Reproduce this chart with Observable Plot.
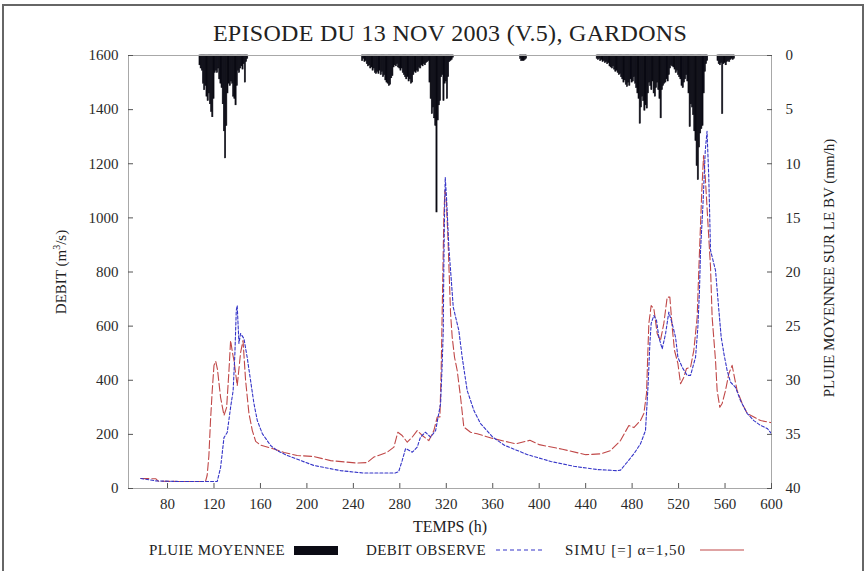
<!DOCTYPE html>
<html><head><meta charset="utf-8">
<script src="https://cdn.jsdelivr.net/npm/d3@7"></script>
<script src="https://cdn.jsdelivr.net/npm/@observablehq/plot@0.6"></script>
<style>
body{margin:0;background:#fff;font-family:"Liberation Serif",serif;color:#222}
#wrap{position:relative;width:866px;height:571px;overflow:hidden;background:#fff}
.abs{position:absolute;white-space:nowrap;line-height:1}
.leg{letter-spacing:0.4px;font-size:15px}
</style></head><body>
<div id="wrap">
  <div style="position:absolute;left:2px;top:4px;width:858px;height:590px;border:2px solid #666"></div>
  <div class="abs" style="left:450px;top:21px;transform:translateX(-50%);font-size:24px;letter-spacing:0.3px">EPISODE DU 13 NOV 2003 (V.5), GARDONS</div>
  <div id="chart" style="position:absolute;left:0;top:50px"></div>
  <div class="abs" style="left:60px;top:272px;transform:translate(-50%,-50%) rotate(-90deg);font-size:15px">DEBIT (m<sup style="font-size:10px">3</sup>/s)</div>
  <div class="abs" style="left:829px;top:268px;transform:translate(-50%,-50%) rotate(-90deg);font-size:15px">PLUIE MOYENNEE SUR LE BV (mm/h)</div>
  <div class="abs" style="left:450px;top:519px;transform:translateX(-50%);font-size:16px">TEMPS (h)</div>
  <div class="abs leg" style="left:149px;top:543px">PLUIE MOYENNEE</div>
  <div style="position:absolute;left:294px;top:546px;width:44px;height:9px;background:#0b0b14"></div>
  <div class="abs leg" style="left:366px;top:543px">DEBIT OBSERVE</div>
  <svg style="position:absolute;left:494px;top:545px" width="50" height="10"><line x1="2" x2="48" y1="5" y2="5" stroke="#3535c8" stroke-width="1.2" stroke-dasharray="4,3"/></svg>
  <div class="abs leg" style="left:565px;top:543px;letter-spacing:1px">SIMU [=] α=1,50</div>
  <svg style="position:absolute;left:698px;top:545px" width="50" height="10"><line x1="2" x2="46" y1="5" y2="5" stroke="#c04848" stroke-width="1.2"/></svg>
</div>
<script>
// ---- data ----
const xTicks = [80,120,160,200,240,280,320,360,400,440,480,520,560,600];
const qTicks = [0,200,400,600,800,1000,1200,1400,1600];
const rainTicks = [0,5,10,15,20,25,30,35,40];

// mean rainfall (mm/h), hourly, by episode
const rain1Start = 108;
const rain1 = [0.9,1.2,1.4,2.6,3.2,2.8,3.8,4.2,3.5,4.5,5.2,5.7,4.0,1.6,1.4,1.6,1.2,2.2,2.6,3.0,4.5,7.0,9.5,6.5,3.5,2.6,2.8,2.4,2.6,3.8,4.0,4.6,2.8,1.4,1.6,1.2,1.0,1.3,0.8,2.5,0.6,0.3];
const rain2Start = 248;
const rain2 = [0.5,0.3,0.6,0.5,0.8,1.0,0.9,1.2,1.1,1.4,1.2,1.6,1.7,1.5,1.7,1.4,1.8,1.5,2.0,1.8,2.3,2.5,2.6,2.8,2.7,2.1,1.9,1.1,0.9,1.0,0.8,1.1,1.2,1.4,1.2,1.6,1.8,2.0,2.2,2.0,2.4,2.2,2.6,2.5,1.8,1.5,1.6,1.4,1.5,1.1,1.2,0.9,1.0,0.8,0.9,0.7,0.6,0.5,2.5,4.0,5.4,4.8,5.8,6.5,14.5,6.0,4.6,4.2,2.0,1.8,4.2,2.6,2.4,4.0,2.0,0.6,0.5,0.4,0.2];
const rain3Start = 384;
const rain3 = [0.3,0.5,0.5,0.5,0.4,0.3];
const rain4Start = 450;
const rain4 = [0.3,0.4,0.3,0.5,0.4,0.6,0.5,0.7,0.6,0.8,0.7,1.0,1.1,1.2,1.0,1.3,1.5,1.4,1.6,1.8,1.7,2.0,2.2,2.5,2.3,2.7,2.9,2.5,2.8,2.2,2.5,2.4,2.0,2.6,3.0,3.5,4.0,6.3,4.8,3.8,4.2,5.1,4.6,4.9,3.5,2.5,2.8,3.2,2.4,3.5,3.8,3.0,2.5,3.2,4.0,5.8,3.2,2.8,2.6,2.5,2.2,2.4,1.8,1.2,0.9,1.0,1.1,1.3,1.6,1.4,1.8,2.0,2.2,2.8,3.0,2.5,2.2,1.8,2.4,3.5,6.6,4.5,4.8,5.5,7.0,7.9,10.2,11.5,8.5,7.2,6.8,6.5,3.5,1.5,0.8,0.5];
const rain5Start = 554;
const rain5 = [0.5,0.8,0.9,0.7,5.4,0.8,0.7,0.9,0.6,0.5,0.6,0.4,0.3,0.4,0.3];

// observed discharge (m3/s)
const obsT = [57,70,90,112.7,122.8,125.7,128.6,131.4,134.3,136.5,138,139.2,140,141.5,142.9,145.8,148.6,151.5,154.4,157.3,161.6,168.7,174.5,183,206,229,249,276,279,282,285,290.7,295,297.8,302,306.5,310.8,315.1,316.5,317.4,317.9,318.5,319.1,320.2,322.2,323.7,326,330.8,333.7,338,343.8,349.5,360,370,390,410,430,450,467,470,475.7,481.5,487.2,491.5,493,493.8,495.3,496.4,498.7,501,503,505.9,508.8,511.6,514.5,517.4,519.4,523.1,527.4,530.3,534.6,536.6,538,538.9,541,543,544.5,546,547.5,551.8,554.7,556.7,559,561.8,564.7,569,573.3,579.1,584.8,590.6,596.3,600];
const obsQ = [37,28,26,26,26,78,188,207,300,362,499,658,676,536,573,554,484,399,314,251,203,159,140,122,85,66,57,57,62,103,148,134,153,190,208,190,214,314,462,584,831,1016,1150,1076,892,806,670,584,485,362,288,240,190,160,125,100,82,70,66,68,97,128,165,214,325,388,536,610,639,621,559,516,572,652,609,559,485,448,418,418,485,596,732,880,1050,1250,1320,1150,880,806,658,559,499,436,393,374,325,277,251,233,222,203];

// simulated discharge (m3/s)
const simT = [57,70,72,90,112.7,114.1,115.6,117,118.5,120,121.5,123,125.7,128.6,130.9,132.9,134.3,136,137.2,140,142.9,145,147.2,150.1,153,155.9,160.2,170.2,180.3,191.6,206,220.4,243.3,251.9,257.6,269.1,274.9,278.3,282,286.4,290.7,295,299.3,305,309.3,312.2,314.5,315.6,317.1,317.9,318.8,319.9,321.4,323.7,325.1,327.1,329.4,332.3,335.1,340.9,346.6,360,380,392,400,420,440,452.8,461.4,470,477.2,481.5,487.2,490.1,492.4,493.6,494.4,496.4,498.7,501.6,504.4,507.3,510.2,512.5,514.5,516.5,519.4,521.7,524.5,526.8,530.3,533.1,536,537.5,540,541.5,543,545,547.5,548.9,551.8,553.2,555.5,557.5,560.4,563.3,566.1,568.1,570.4,574.8,579.1,584.8,590.6,597.8,600];
const simQ = [37,36,27,26,26,48,120,250,362,455,470,440,336,270,300,436,547,500,473,380,502,547,400,277,214,174,160,148,133,122,118,103,94,96,116,134,153,208,196,171,190,214,196,177,214,264,264,436,806,1003,1101,1076,929,646,559,485,436,337,227,208,202,185,165,178,162,145,125,128,140,177,233,225,251,277,351,510,610,676,665,572,547,610,707,707,596,510,462,387,411,443,448,510,633,818,1100,1230,1150,1000,818,633,473,362,300,314,362,425,455,411,362,314,277,264,251,245,243];

// ---- build tables ----
const rain = [];
[[rain1Start,rain1],[rain2Start,rain2],[rain3Start,rain3],[rain4Start,rain4],[rain5Start,rain5]]
  .forEach(([s,arr]) => arr.forEach((r,i) => rain.push({h: s + i, r})));
const obs = obsT.map((t,i) => ({t, q: obsQ[i]}));
const sim = simT.map((t,i) => ({t, q: simQ[i]}));
const QMAX = 1600, RMAX = 40, K = QMAX / RMAX; // rain axis: 0 at top, 40 at bottom
const FS = 15;

const chart = Plot.plot({
  width: 866, height: 490,
  marginLeft: 128, marginRight: 95, marginTop: 5, marginBottom: 52,
  x: {domain: [46.4, 600]},
  y: {domain: [0, QMAX]},
  style: {fontFamily: "Liberation Serif, serif", fontSize: "15px", color: "#2a2a2a", background: "transparent", overflow: "visible"},
  marks: [
    Plot.rectY(rain, {x1: d => d.h - 0.5, x2: d => d.h + 0.5, y1: QMAX, y2: d => QMAX - d.r * K, fill: "#0b0b14", stroke: "#0b0b14", strokeWidth: 0.6}),
    Plot.line(sim, {x: "t", y: "q", stroke: "#c04848", strokeWidth: 1.1, strokeDasharray: "8,3"}),
    Plot.line(obs, {x: "t", y: "q", stroke: "#3535c8", strokeWidth: 1.1, strokeDasharray: "3,2"}),
    Plot.frame({stroke: "#a8a8a8"}),
    Plot.axisX({ticks: xTicks, tickSize: -5, tickFormat: () => "", stroke: "#555", label: null}),
    Plot.axisX({ticks: xTicks, tickSize: 0, tickPadding: 10, tickFormat: d => String(d), fontSize: FS, label: null}),
    Plot.axisY({ticks: qTicks, tickSize: -5, tickFormat: () => "", stroke: "#555", label: null}),
    Plot.axisY({ticks: qTicks, tickSize: 0, tickPadding: 10, tickFormat: d => String(d), fontSize: FS, label: null}),
    Plot.axisY({anchor: "right", ticks: rainTicks.map(r => QMAX - r * K), tickSize: -5, tickFormat: () => "", stroke: "#555", label: null}),
    Plot.axisY({anchor: "right", ticks: rainTicks.map(r => QMAX - r * K), tickFormat: d => String(Math.round((QMAX - d) / K)), tickSize: 0, tickPadding: 14, fontSize: FS, label: null})
  ]
});
document.getElementById("chart").appendChild(chart);
</script>
</body></html>
